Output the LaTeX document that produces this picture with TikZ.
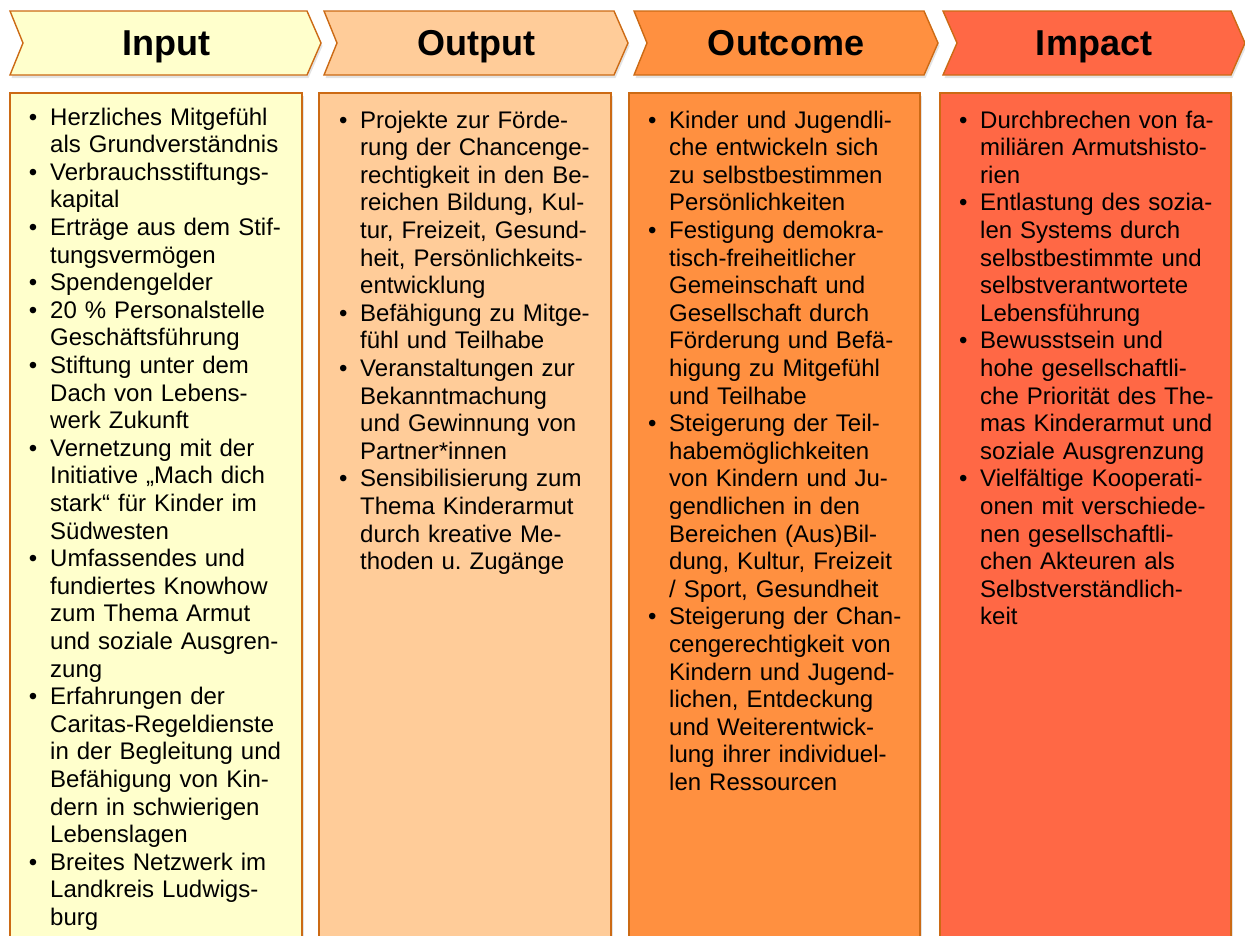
\documentclass[tikz,border=0pt]{standalone}
\usepackage{fontspec}
\setmainfont{Liberation Sans}
\usetikzlibrary{shadows}
\frenchspacing

\definecolor{cinput}{HTML}{FFFFCC}
\definecolor{coutput}{HTML}{FFCC99}
\definecolor{coutcome}{HTML}{FF9040}
\definecolor{cimpact}{HTML}{FF6845}
\definecolor{cedge}{HTML}{CC6A14}

% bullet hanging to the left of an item's first line
\newcommand{\bl}{\leavevmode\llap{\textbullet\hspace{12.8pt}}}

\begin{document}
\begin{tikzpicture}[x=1pt,y=-1pt,
  panel/.style={draw=cedge, line width=1.4pt,
    drop shadow={shadow xshift=1.5pt, shadow yshift=-3pt, opacity=0.22}},
  title/.style={font=\fontsize{36}{40}\selectfont\bfseries, anchor=base, inner sep=0pt},
  body/.style={font=\fontsize{24}{27.6}\selectfont, anchor=base west, inner sep=0pt,
    text width=300pt, align=left}]
\useasboundingbox (0,0) rectangle (1245,935);
\clip (0,0) rectangle (1245,935);

% header chevrons
\path[panel, fill=cinput]   (10,11)  -- (307,11)  -- (321,43)  -- (307,75)  -- (10,75)  -- (23,43)  -- cycle;
\path[panel, fill=coutput]  (324,11) -- (614,11)  -- (628,43)  -- (614,75)  -- (324,75) -- (337,43) -- cycle;
\path[panel, fill=coutcome] (634,11) -- (924,11)  -- (938,43)  -- (924,75)  -- (634,75) -- (647,43) -- cycle;
\path[panel, fill=cimpact]  (943,11) -- (1231,11) -- (1245,43) -- (1231,75) -- (943,75) -- (957,43) -- cycle;

\node[title] (tin)  at (166,55)  {Input};
\node[title] (tout) at (476,55)  {Output};
\node[title] (tcom) at (786,55)  {Outcome};
\node[title] (timp) at (1094,55) {Impact};

% content columns
\path[panel, fill=cinput]   (10,93)  rectangle (302,960);
\path[panel, fill=coutput]  (319,93) rectangle (611,960);
\path[panel, fill=coutcome] (629,93) rectangle (920,960);
\path[panel, fill=cimpact]  (940,93) rectangle (1231,960);

\node[body] (lin) at (50,125) {%
\bl Herzliches Mitgefühl\\
als Grundverständnis\\
\bl Verbrauchsstiftungs-\\
kapital\\
\bl Erträge aus dem Stif-\\
tungsvermögen\\
\bl Spendengelder\\
\bl 20 \% Personalstelle\\
Geschäftsführung\\
\bl Stiftung unter dem\\
Dach von Lebens-\\
werk Zukunft\\
\bl Vernetzung mit der\\
Initiative „Mach dich\\
stark“ für Kinder im\\
Südwesten\\
\bl Umfassendes und\\
fundiertes Knowhow\\
zum Thema Armut\\
und soziale Ausgren-\\
zung\\
\bl Erfahrungen der\\
Caritas-Regeldienste\\
in der Begleitung und\\
Befähigung von Kin-\\
dern in schwierigen\\
Lebenslagen\\
\bl Breites Netzwerk im\\
Landkreis Ludwigs-\\
burg};

\node[body] (lout) at (360,128) {%
\bl Projekte zur Förde-\\
rung der Chancenge-\\
rechtigkeit in den Be-\\
reichen Bildung, Kul-\\
tur, Freizeit, Gesund-\\
heit, Persönlichkeits-\\
entwicklung\\
\bl Befähigung zu Mitge-\\
fühl und Teilhabe\\
\bl Veranstaltungen zur\\
Bekanntmachung\\
und Gewinnung von\\
Partner*innen\\
\bl Sensibilisierung zum\\
Thema Kinderarmut\\
durch kreative Me-\\
thoden u.\ Zugänge};

\node[body] (lcom) at (669,128) {%
\bl Kinder und Jugendli-\\
che entwickeln sich\\
zu selbstbestimmen\\
Persönlichkeiten\\
\bl Festigung demokra-\\
tisch-freiheitlicher\\
Gemeinschaft und\\
Gesellschaft durch\\
Förderung und Befä-\\
higung zu Mitgefühl\\
und Teilhabe\\
\bl Steigerung der Teil-\\
habemöglichkeiten\\
von Kindern und Ju-\\
gendlichen in den\\
Bereichen (Aus)Bil-\\
dung, Kultur, Freizeit\\
/ Sport, Gesundheit\\
\bl Steigerung der Chan-\\
cengerechtigkeit von\\
Kindern und Jugend-\\
lichen, Entdeckung\\
und Weiterentwick-\\
lung ihrer individuel-\\
len Ressourcen};

\node[body] (limp) at (980,128) {%
\bl Durchbrechen von fa-\\
miliären Armutshisto-\\
rien\\
\bl Entlastung des sozia-\\
len Systems durch\\
selbstbestimmte und\\
selbstverantwortete\\
Lebensführung\\
\bl Bewusstsein und\\
hohe gesellschaftli-\\
che Priorität des The-\\
mas Kinderarmut und\\
soziale Ausgrenzung\\
\bl Vielfältige Kooperati-\\
onen mit verschiede-\\
nen gesellschaftli-\\
chen Akteuren als\\
Selbstverständlich-\\
keit};
\end{tikzpicture}
\end{document}
